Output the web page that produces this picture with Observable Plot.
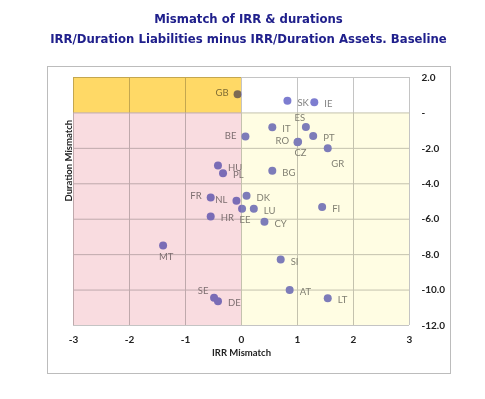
<!DOCTYPE html>
<html>
<head>
<meta charset="utf-8">
<script src="https://cdn.jsdelivr.net/npm/d3@7"></script>
<script src="https://cdn.jsdelivr.net/npm/@observablehq/plot@0.6"></script>
<style>
  html, body { margin: 0; padding: 0; background: white; }
  #wrap { position: relative; width: 485px; height: 399px; overflow: hidden; }
  .title { position: absolute; left: 0; width: 497px; text-align: center; font-family: "DejaVu Sans", Verdana, sans-serif; font-weight: bold; font-size: 11.7px; color: #20208c; white-space: nowrap; }
  #t1 { top: 12px; }
  #t2 { top: 32px; }
  #box { position: absolute; left: 47px; top: 66px; width: 402px; height: 306px; border: 1px solid #bcbcbc; }
  #chart { position: absolute; left: 0; top: 58px; }
</style>
</head>
<body>
<div id="wrap">
  <div id="box"></div>
  <div class="title" id="t1">Mismatch of IRR &amp; durations</div>
  <div class="title" id="t2">IRR/Duration Liabilities minus IRR/Duration Assets. Baseline</div>
  <div id="chart"></div>
</div>
<script>
const countries = ["GB","SK","IE","ES","IT","PT","RO","CZ","GR","BE","HU","PL","BG","FR","NL","DK","LU","EE","FI","HR","CY","MT","SI","AT","LT","SE","DE"];
const irrMismatch = [-0.07,0.82,1.30,1.15,0.55,1.28,1.01,1.00,1.54,0.07,-0.42,-0.33,0.55,-0.55,-0.09,0.09,0.22,0.01,1.44,-0.55,0.41,-1.40,0.70,0.86,1.54,-0.49,-0.42];
const durationMismatch = [1.05,0.69,0.60,-0.79,-0.81,-1.30,-1.62,-1.65,-1.99,-1.33,-2.97,-3.40,-3.27,-4.77,-4.96,-4.68,-5.41,-5.41,-5.31,-5.84,-6.14,-7.49,-8.28,-9.99,-10.46,-10.44,-10.63];
const labelSide = ["left","right","right","above","right","right","left","below","belowright","left","right","right","right","left","left","right","right","below","right","right","right","below","right","right","right","aboveleft","right"];
const xTicks = [-3,-2,-1,0,1,2,3];
const yTicks = [2,0,-2,-4,-6,-8,-10,-12];
const zoneX1 = [-3, -3, 0, 0];
const zoneX2 = [0, 0, 3, 3];
const zoneY1 = [0, -12, -12, 0];
const zoneY2 = [2, 0, 0, 2];
const zoneColor = ["#ffd966", "#f9dce0", "#fffde3", "#ffffff"];

const rows = countries.map((c, i) => ({c, x: irrMismatch[i], y: durationMismatch[i], side: labelSide[i]}));
const zones = zoneX1.map((v, i) => ({x1: v, x2: zoneX2[i], y1: zoneY1[i], y2: zoneY2[i], fill: zoneColor[i]}));

const lab = {fill: "#808080", fontSize: 9.5, fontFamily: "Lato"};
const side = s => rows.filter(d => d.side === s);

const chart = Plot.plot({
  width: 485, height: 341,
  marginLeft: 73, marginRight: 76, marginTop: 19, marginBottom: 74,
  x: {domain: [-3, 3]},
  y: {domain: [-12, 2]},
  color: {type: "identity"},
  style: {fontFamily: "Lato", background: "transparent", overflow: "visible"},
  marks: [
    Plot.gridX(xTicks, {stroke: "#c4c4c4", strokeOpacity: 1}),
    Plot.gridY(yTicks, {stroke: "#c4c4c4", strokeOpacity: 1}),
    Plot.dot(rows, {x: "x", y: "y", r: 4, fill: "#7d7dd0"}),
    Plot.text(side("right"), {x: "x", y: "y", text: "c", textAnchor: "start", dx: 10, dy: 2, ...lab}),
    Plot.text(side("left"), {x: "x", y: "y", text: "c", textAnchor: "end", dx: -9, dy: -1, ...lab}),
    Plot.text(side("above"), {x: "x", y: "y", text: "c", dx: -6, dy: -9, ...lab}),
    Plot.text(side("below"), {x: "x", y: "y", text: "c", dx: 3, dy: 11, ...lab}),
    Plot.text(side("belowright"), {x: "x", y: "y", text: "c", dx: 10, dy: 16, ...lab}),
    Plot.text(side("aboveleft"), {x: "x", y: "y", text: "c", dx: -11, dy: -7, ...lab}),
    Plot.rect(zones, {x1: "x1", x2: "x2", y1: "y1", y2: "y2", fill: "fill", mixBlendMode: "multiply"}),
    Plot.axisX(xTicks, {tickSize: 0, tickPadding: 10, fontWeight: "bold", fontSize: 10, fill: "#222", tickFormat: d => String(d), label: null}),
    Plot.axisY(yTicks, {anchor: "right", tickSize: 0, tickPadding: 12, fontWeight: "bold", fontSize: 10, fill: "#222", tickFormat: d => d === 0 ? "-" : d.toFixed(1), label: null}),
    Plot.text(["IRR Mismatch"], {frameAnchor: "bottom", dy: 30, fontWeight: "bold", fontSize: 9.5, fill: "#222"}),
    Plot.text(["Duration Mismatch"], {frameAnchor: "left", dx: -5, rotate: -90, fontWeight: "bold", fontSize: 9.5, fill: "#222"})
  ]
});
document.getElementById("chart").appendChild(chart);
</script>
</body>
</html>
